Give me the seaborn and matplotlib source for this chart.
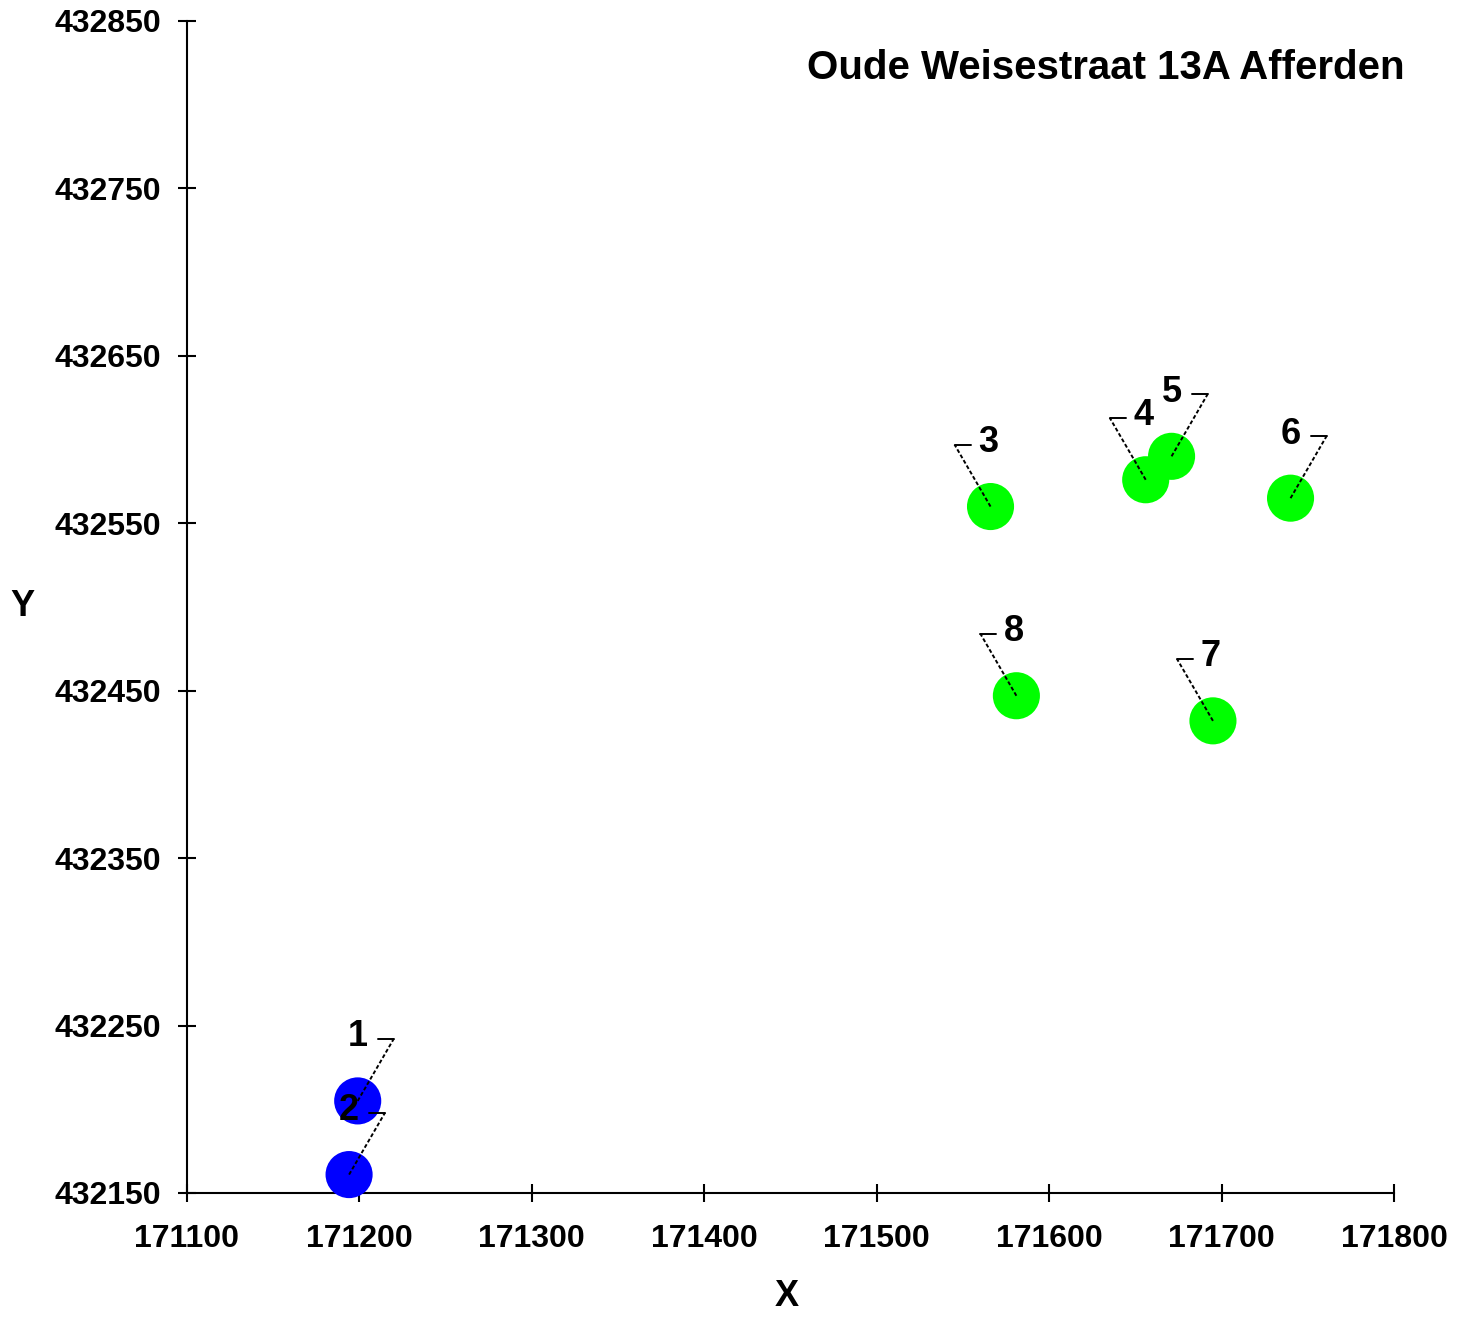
import numpy as np
import pandas as pd
import matplotlib
matplotlib.use("Agg")
import matplotlib.pyplot as plt
import seaborn as sns

# ---- data ----
point_labels = ["1", "2", "3", "4", "5", "6", "7", "8"]
x_vals = [171199, 171194, 171566, 171656, 171671, 171740, 171695, 171581]
y_vals = [432205, 432161, 432560, 432576, 432590, 432565, 432432, 432447]
groups = ["A", "A", "B", "B", "B", "B", "B", "B"]
label_side = ["right", "right", "left", "left", "right", "right", "left", "left"]
x_ticks = [171100, 171200, 171300, 171400, 171500, 171600, 171700, 171800]
y_ticks = [432150, 432250, 432350, 432450, 432550, 432650, 432750, 432850]
title = "Oude Weisestraat 13A Afferden"

df = pd.DataFrame({"X": x_vals, "Y": y_vals, "group": groups, "label": point_labels})

sns.set_style("white")
plt.rcParams["font.family"] = ["Liberation Sans", "DejaVu Sans"]
plt.rcParams["text.color"] = "black"
plt.rcParams["xtick.color"] = "black"
plt.rcParams["ytick.color"] = "black"
plt.rcParams["axes.labelcolor"] = "black"

W, H = 1469, 1319
fig = plt.figure(figsize=(W / 100, H / 100), dpi=100)
ax = fig.add_axes([187 / W, 1 - 1193 / H, (1394 - 187) / W, (1193 - 21) / H])

sns.scatterplot(data=df, x="X", y="Y", hue="group",
                palette={"A": "#0000FF", "B": "#00FF00"},
                s=1150, linewidth=0, legend=False, ax=ax, zorder=3, clip_on=False)

ax.set_xlim(x_ticks[0], x_ticks[-1])
ax.set_ylim(y_ticks[0], y_ticks[-1])
ax.set_xticks(x_ticks)
ax.set_yticks(y_ticks)
ax.set_xticklabels([str(t) for t in x_ticks], fontsize=23, fontweight="bold")
ax.set_yticklabels([str(t) for t in y_ticks], fontsize=23, fontweight="bold")
ax.tick_params(axis="both", direction="inout", length=13, width=1.5, color="black",
               bottom=True, left=True, labelcolor="black")
ax.tick_params(axis="x", pad=16)
ax.tick_params(axis="y", pad=12)
for side in ["top", "right"]:
    ax.spines[side].set_visible(False)
for side in ["left", "bottom"]:
    ax.spines[side].set_color("black")
    ax.spines[side].set_linewidth(1.5)
ax.grid(False)

ax.set_xlabel("X", fontsize=26, fontweight="bold", color="black")
ax.set_ylabel("Y", fontsize=26, fontweight="bold", rotation=0, color="black",
              va="center", ha="center")
ax.xaxis.set_label_coords((787 - 187) / (1394 - 187), -(1297 - 1193) / (1193 - 21))
ax.xaxis.label.set_va("center")
ax.yaxis.set_label_coords(-(187 - 22) / (1394 - 187), (1193 - 606) / (1193 - 21))

fig.text(1405 / W, 1 - 68 / H, title, ha="right", va="center",
         fontsize=29, fontweight="bold", color="black")

# leader lines and labels
fig.canvas.draw()
inv = ax.transData.inverted()
for xv, yv, lab, side in zip(x_vals, y_vals, point_labels, label_side):
    px, py = ax.transData.transform((xv, yv))
    sgn = 1 if side == "right" else -1
    ex, ey = px + sgn * 36, py + 62
    bx, by = ex - sgn * 16, ey
    (dx0, dy0), (dx1, dy1), (dx2, dy2) = inv.transform([(px, py), (ex, ey), (bx, by)])
    ax.plot([dx0, dx1], [dy0, dy1], color="black", lw=1.4,
            linestyle=(0, (2, 1.2)), zorder=4, clip_on=False)
    ax.plot([dx1, dx2], [dy1, dy2], color="black", lw=1.4, zorder=4, clip_on=False)
    tx = px + (0 if side == "right" else -2)
    tdx, tdy = inv.transform((tx, ey + 2))
    ax.text(tdx, tdy, lab, ha="center", va="center", fontsize=26,
            fontweight="bold", color="black", zorder=5, clip_on=False)

fig.savefig("out.png", dpi=100, facecolor="white")
